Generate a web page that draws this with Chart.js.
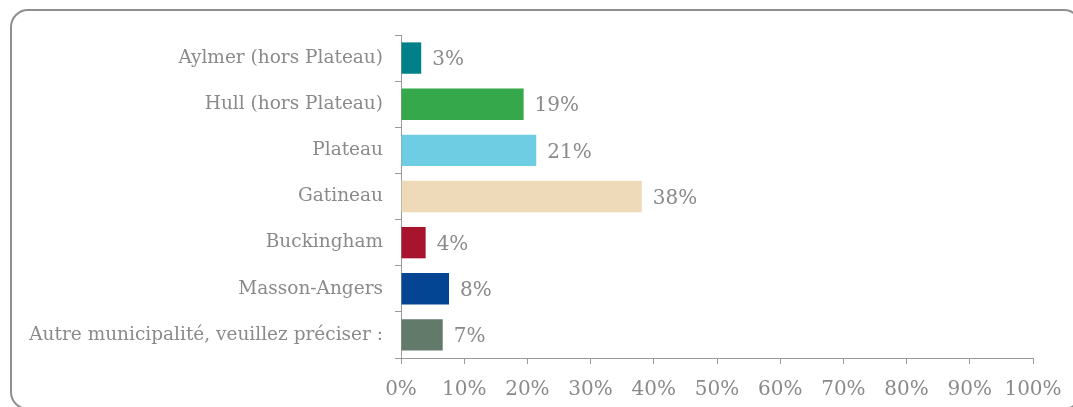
<!DOCTYPE html>
<html lang="fr">
<head>
  <meta charset="UTF-8">
  <title>Municipalité</title>
  <script src="https://cdn.jsdelivr.net/npm/chart.js"></script>
  <style>
    html, body { margin: 0; padding: 0; background: #fff; overflow: hidden; }
    .frame {
      position: absolute;
      left: 10px; top: 9px;
      width: 1068px; height: 397px;
      border: 2px solid #8f8f8f;
      border-radius: 18px;
    }
    #chart { position: absolute; left: 0; top: 0; }
  </style>
</head>
<body>
  <div class="frame"></div>
  <canvas id="chart" width="1073" height="407"></canvas>

  <script>
    const categories = ['Aylmer (hors Plateau)', 'Hull (hors Plateau)', 'Plateau', 'Gatineau',
      'Buckingham', 'Masson-Angers', 'Autre municipalité, veuillez préciser :'];
    const values = [3.2, 19.4, 21.4, 38.1, 3.9, 7.6, 6.6];
    const colors = ['#00808a', '#34a84a', '#6fcde3', '#eedab9', '#a8132e', '#034593', '#627a69'];
    const ticks = [0, 10, 20, 30, 40, 50, 60, 70, 80, 90, 100];

    const textColor = '#8a8a8a';
    const fontFamily = '"DejaVu Serif", serif';

    // value labels at the end of each bar
    const barLabels = {
      id: 'barLabels',
      afterDatasetsDraw(chart) {
        const ctx = chart.ctx;
        const meta = chart.getDatasetMeta(0);
        ctx.save();
        ctx.fillStyle = textColor;
        ctx.font = '20px ' + fontFamily;
        ctx.textBaseline = 'middle';
        ctx.textAlign = 'left';
        meta.data.forEach((bar, i) => {
          ctx.fillText(Math.round(values[i]) + '%', bar.x + 11, bar.y + 2);
        });
        ctx.restore();
      }
    };

    new Chart(document.getElementById('chart'), {
      type: 'bar',
      data: {
        labels: categories,
        datasets: [{
          data: values,
          backgroundColor: colors,
          borderWidth: 0,
          categoryPercentage: 0.68,
          barPercentage: 1
        }]
      },
      options: {
        indexAxis: 'y',
        responsive: false,
        animation: false,
        layout: { padding: { top: 35, right: 0, bottom: 0, left: 0 } },
        plugins: { legend: { display: false }, tooltip: { enabled: false } },
        scales: {
          x: {
            min: 0, max: 100,
            afterBuildTicks(scale) { scale.ticks = ticks.map(v => ({ value: v })); },
            afterFit(scale) { scale.height = 49; scale.paddingRight = 40; },
            border: { color: '#9a9a9a', width: 1 },
            grid: { drawOnChartArea: false, drawTicks: true, tickLength: 6, color: '#9a9a9a' },
            ticks: {
              color: textColor,
              font: { family: fontFamily, size: 20 },
              padding: 14,
              maxRotation: 0,
              callback: v => v + '%'
            }
          },
          y: {
            afterFit(scale) { scale.width = 401; },
            border: { color: '#9a9a9a', width: 1 },
            grid: { drawOnChartArea: false, drawTicks: true, tickLength: 6, color: '#9a9a9a', offset: true },
            ticks: {
              color: textColor,
              font: { family: fontFamily, size: 18.5 },
              padding: 12
            }
          }
        }
      },
      plugins: [barLabels]
    });
  </script>
</body>
</html>
